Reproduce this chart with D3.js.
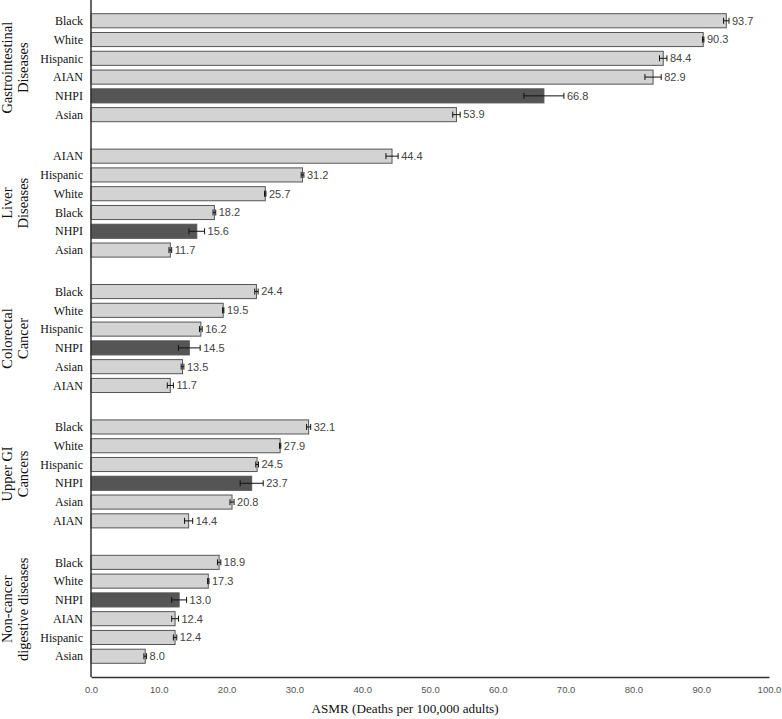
<!DOCTYPE html>
<html>
<head>
<meta charset="utf-8">
<script src="https://cdn.jsdelivr.net/npm/d3@7"></script>
<style>
  body { margin: 0; background: #fff; }
</style>
</head>
<body>
<div id="chart"></div>
<script>
// groups, top to bottom
const groups = [
  "Gastrointestinal Diseases",
  "Liver Diseases",
  "Colorectal Cancer",
  "Upper GI Cancers",
  "Non-cancer digestive diseases"
];
const groupLines = [
  ["Gastrointestinal", "Diseases"],
  ["Liver", "Diseases"],
  ["Colorectal", "Cancer"],
  ["Upper GI", "Cancers"],
  ["Non-cancer", "digestive diseases"]
];
// race order inside each group
const races = [
  ["Black", "White", "Hispanic", "AIAN", "NHPI", "Asian"],
  ["AIAN", "Hispanic", "White", "Black", "NHPI", "Asian"],
  ["Black", "White", "Hispanic", "NHPI", "Asian", "AIAN"],
  ["Black", "White", "Hispanic", "NHPI", "Asian", "AIAN"],
  ["Black", "White", "NHPI", "AIAN", "Hispanic", "Asian"]
];
// ASMR values
const values = [
  [93.7, 90.3, 84.4, 82.9, 66.8, 53.9],
  [44.4, 31.2, 25.7, 18.2, 15.6, 11.7],
  [24.4, 19.5, 16.2, 14.5, 13.5, 11.7],
  [32.1, 27.9, 24.5, 23.7, 20.8, 14.4],
  [18.9, 17.3, 13.0, 12.4, 12.4, 8.0]
];
// half-width of the error bars (estimated)
const errors = [
  [0.4, 0.1, 0.55, 1.2, 2.95, 0.55],
  [0.9, 0.2, 0.1, 0.2, 1.15, 0.2],
  [0.25, 0.1, 0.2, 1.6, 0.2, 0.45],
  [0.3, 0.1, 0.2, 1.7, 0.3, 0.6],
  [0.25, 0.1, 1.1, 0.5, 0.25, 0.2]
];
const xTicks = [0, 10, 20, 30, 40, 50, 60, 70, 80, 90, 100];

const width = 782, height = 719;
const margin = {top: 0, right: 13, bottom: 42, left: 91};

const svg = d3.select("#chart").append("svg")
  .attr("width", width)
  .attr("height", height);

const x = d3.scaleLinear()
  .domain([0, 100])
  .range([margin.left, width - margin.right]);

const yGroup = d3.scaleBand()
  .domain(d3.range(groups.length))
  .range([margin.top, height - margin.bottom]);

const yRow = d3.scaleBand()
  .domain(d3.range(6))
  .range([0, yGroup.bandwidth()])
  .paddingInner(0.25)
  .paddingOuter(0.73);

const rows = [];
groups.forEach((g, gi) => {
  races[gi].forEach((r, ri) => {
    rows.push({gi, ri, race: r, value: values[gi][ri], err: errors[gi][ri]});
  });
});
const rowY = d => yGroup(d.gi) + yRow(d.ri);

// bars
svg.append("g")
  .selectAll("rect")
  .data(rows)
  .join("rect")
    .attr("x", x(0))
    .attr("y", rowY)
    .attr("width", d => x(d.value) - x(0))
    .attr("height", yRow.bandwidth())
    .attr("fill", d => d.race === "NHPI" ? "#555555" : "#d3d3d3")
    .attr("stroke", "#555")
    .attr("stroke-width", 1);

// error bars
const eb = svg.append("g")
  .attr("stroke", "#111")
  .attr("stroke-width", 1)
  .selectAll("g")
  .data(rows)
  .join("g")
    .attr("transform", d => `translate(0,${rowY(d) + yRow.bandwidth() / 2})`);
eb.append("line")
  .attr("x1", d => x(d.value - d.err))
  .attr("x2", d => x(d.value + d.err));
eb.append("line")
  .attr("x1", d => x(d.value - d.err))
  .attr("x2", d => x(d.value - d.err))
  .attr("y1", -3).attr("y2", 3);
eb.append("line")
  .attr("x1", d => x(d.value + d.err))
  .attr("x2", d => x(d.value + d.err))
  .attr("y1", -3).attr("y2", 3);

// value labels
svg.append("g")
  .selectAll("text")
  .data(rows)
  .join("text")
    .attr("x", d => x(d.value + d.err) + 3)
    .attr("y", d => rowY(d) + yRow.bandwidth() / 2)
    .attr("dy", "0.35em")
    .attr("font-family", "Liberation Sans, Arial, sans-serif")
    .attr("font-size", 11)
    .attr("fill", "#444")
    .text(d => d.value.toFixed(1));

// race labels
svg.append("g")
  .selectAll("text")
  .data(rows)
  .join("text")
    .attr("x", margin.left - 8)
    .attr("y", d => rowY(d) + yRow.bandwidth() / 2)
    .attr("dy", "0.35em")
    .attr("text-anchor", "end")
    .attr("font-family", "Liberation Serif, Times New Roman, serif")
    .attr("font-size", 12)
    .attr("fill", "#111")
    .text(d => d.race);

// group labels (rotated)
const gl = svg.append("g")
  .selectAll("text")
  .data(groups)
  .join("text")
    .attr("transform", (d, i) => {
      const cy = yGroup(i) + yRow(0) + (yRow(5) + yRow.bandwidth() - yRow(0)) / 2;
      return `translate(0,${cy}) rotate(-90)`;
    })
    .attr("text-anchor", "middle")
    .attr("font-family", "Liberation Serif, Times New Roman, serif")
    .attr("font-size", 14.5)
    .attr("fill", "#111");
gl.selectAll("tspan")
  .data((d, i) => groupLines[i].map((t, k) => ({t, k})))
  .join("tspan")
    .attr("x", 0)
    .attr("y", d => 12 + d.k * 15.5)
    .text(d => d.t);

// x axis
const axisY = height - margin.bottom;
const xAxis = svg.append("g")
  .attr("transform", `translate(0,${axisY})`)
  .call(d3.axisBottom(x).tickValues(xTicks).tickFormat(d3.format(".1f")).tickSize(0).tickPadding(9));
xAxis.select(".domain").attr("stroke", "#333").attr("stroke-width", 1.5);
xAxis.selectAll("text")
  .attr("font-family", "Liberation Sans, Arial, sans-serif")
  .attr("font-size", 9.5)
  .attr("fill", "#555");

// y axis line
svg.append("line")
  .attr("x1", x(0)).attr("x2", x(0))
  .attr("y1", margin.top).attr("y2", axisY)
  .attr("stroke", "#333")
  .attr("stroke-width", 1.5);

// axis title
svg.append("text")
  .attr("x", 405)
  .attr("y", 713)
  .attr("text-anchor", "middle")
  .attr("font-family", "Liberation Serif, Times New Roman, serif")
  .attr("font-size", 13.2)
  .attr("fill", "#111")
  .text("ASMR (Deaths per 100,000 adults)");
</script>
</body>
</html>
